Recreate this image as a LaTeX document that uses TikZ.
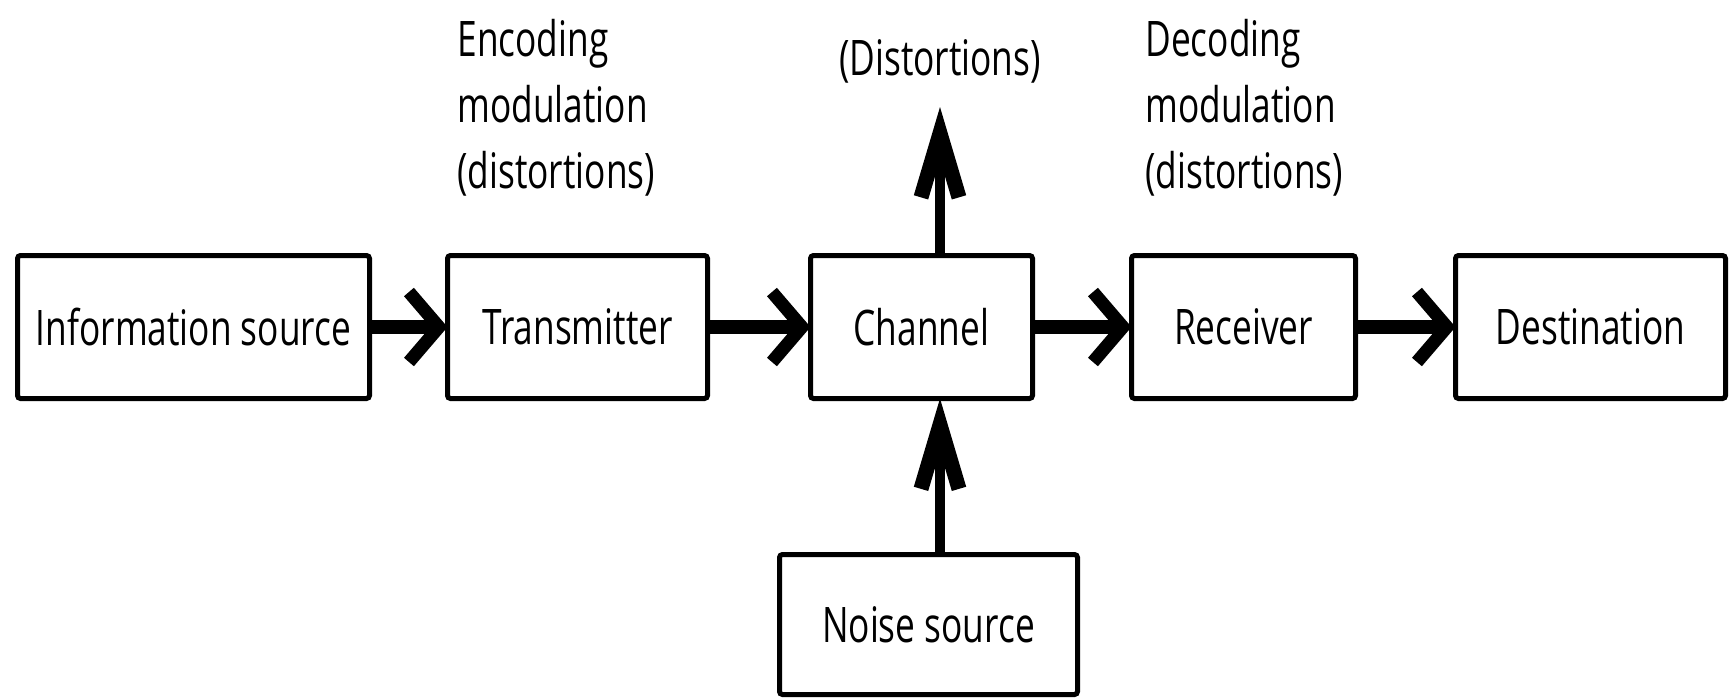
\documentclass[tikz,border=0pt]{standalone}
\usepackage{fontspec}
\setmainfont{Open Sans}
\usetikzlibrary{arrows.meta}
\newcommand{\sqz}[1]{\scalebox{0.72}[1]{#1}}
\begin{document}
\begin{tikzpicture}[x=0.5pt,y=-0.5pt,
  box/.style={draw, line width=2.5pt, rounded corners=1.5pt, minimum height=71.5pt,
    inner sep=0pt, outer sep=0pt, font=\fontsize{24.5}{33}\selectfont},
  lbl/.style={inner sep=0pt, font=\fontsize{24.5}{33}\selectfont, align=left},
  harrow/.style={line width=7pt, -{Straight Barb[length=15pt, width=35pt, line width=6.5pt 0 1]}},
  varrow/.style={line width=5pt, -{Straight Barb[length=32pt, width=19pt, line width=7.5pt 0 1]}}]
\useasboundingbox (0,0) rectangle (1730,698);
\node[box, minimum width=176pt] (info) at (193.5,327) {\sqz{Information source}};
\node[box, minimum width=130pt] (trans) at (577.5,327) {\sqz{Transmitter}};
\node[box, minimum width=111pt] (chan) at (921.5,327) {\sqz{Channel}};
\node[box, minimum width=112pt] (recv) at (1243.5,327) {\sqz{Receiver}};
\node[box, minimum width=135pt] (dest) at (1590.5,327) {\sqz{Destination}};
\node[box, minimum width=149pt, minimum height=70pt] (noise) at (928.5,624.5) {\sqz{Noise source}};
\coordinate (dtip) at (940,107);
\node[lbl] (dist) at (940,61) {\sqz{(Distortions)}};
\node[lbl, anchor=west] (enc) at (457,108) {\sqz{Encoding}\\\sqz{modulation}\\\sqz{(distortions)}};
\node[lbl, anchor=west] (dec) at (1145,108) {\sqz{Decoding}\\\sqz{modulation}\\\sqz{(distortions)}};
\draw[harrow] (info.east) -- (trans.west);
\draw[harrow] (trans.east) -- (chan.west);
\draw[harrow] (chan.east) -- (recv.west);
\draw[harrow] (recv.east) -- (dest.west);
\draw[varrow] (noise.north -| dtip) -- (chan.south -| dtip);
\draw[varrow] (chan.north -| dtip) -- (dtip);
\end{tikzpicture}
\end{document}
